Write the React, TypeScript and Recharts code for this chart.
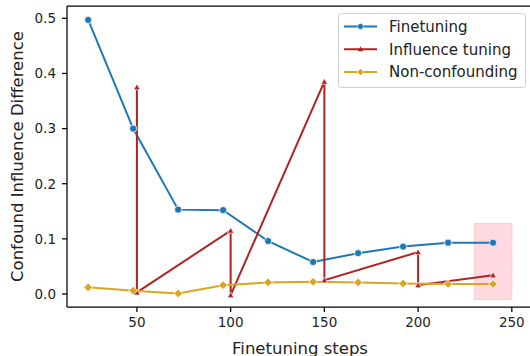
import { LineChart, Line, XAxis, YAxis, ReferenceArea, ReferenceLine, Legend } from 'recharts';

const steps = [24, 48, 72, 96, 120, 144, 168, 192, 216, 240];
const finetuning = [0.497, 0.3, 0.153, 0.152, 0.096, 0.058, 0.074, 0.086, 0.093, 0.093];
const nonConfounding = [0.012, 0.006, 0.001, 0.016, 0.021, 0.022, 0.021, 0.019, 0.018, 0.018];

// influence tuning jumps at each 50 steps, so x repeats
const influenceSteps = [50, 50, 100, 100, 150, 150, 200, 200, 240];
const influenceTuning = [0.375, 0.003, 0.115, -0.002, 0.385, 0.025, 0.076, 0.016, 0.034];

const xTicks = [50, 100, 150, 200, 250];
const yTicks = [0, 0.1, 0.2, 0.3, 0.4, 0.5];

const X_DOMAIN: [number, number] = [12.7, 261.3];
const Y_DOMAIN: [number, number] = [-0.0236, 0.5223];

const BLUE = '#1f77b4';
const RED = '#b22222';
const GOLD = '#daa520';
const FONT = '"DejaVu Sans", sans-serif';

const ftData = steps.map((s, i) => ({ x: s, y: finetuning[i] }));
const ncData = steps.map((s, i) => ({ x: s, y: nonConfounding[i] }));
const itData = influenceSteps.map((s, i) => ({ x: s, y: influenceTuning[i] }));

const CircleDot = (props: any) => (
  <circle key={props.index} cx={props.cx} cy={props.cy} r={3.6} fill={BLUE} stroke="#fff" strokeWidth={0.8} />
);

const TriangleDot = (props: any) => {
  const { cx, cy } = props;
  const s = 3.2;
  return (
    <polygon
      key={props.index}
      points={`${cx},${cy - s} ${cx - s},${cy + s * 0.8} ${cx + s},${cy + s * 0.8}`}
      fill={RED}
      stroke="#fff"
      strokeWidth={0.6}
    />
  );
};

const DiamondDot = (props: any) => {
  const { cx, cy } = props;
  const s = 4.3;
  return (
    <polygon
      key={props.index}
      points={`${cx},${cy - s} ${cx + s},${cy} ${cx},${cy + s} ${cx - s},${cy}`}
      fill={GOLD}
      stroke="#fff"
      strokeWidth={0.8}
    />
  );
};

const legendItems = [
  { name: 'Finetuning', color: BLUE, marker: 'circle' },
  { name: 'Influence tuning', color: RED, marker: 'triangle' },
  { name: 'Non-confounding', color: GOLD, marker: 'diamond' },
];

const LegendBox = () => (
  <svg width={188} height={75} style={{ display: 'block' }}>
    <rect x={0.5} y={0.5} width={187} height={74} rx={3} fill="#fff" fillOpacity={0.8} stroke="#d0d0d0" />
    {legendItems.map((it, i) => {
      const y = 13.4 + i * 22.8;
      return (
        <g key={it.name}>
          <line x1={6} x2={39} y1={y} y2={y} stroke={it.color} strokeWidth={2} />
          {it.marker === 'circle' && <circle cx={22.5} cy={y} r={3} fill={it.color} stroke="#fff" strokeWidth={0.6} />}
          {it.marker === 'triangle' && (
            <polygon points={`22.5,${y - 3} 19.8,${y + 2} 25.2,${y + 2}`} fill={it.color} />
          )}
          {it.marker === 'diamond' && (
            <polygon points={`22.5,${y - 3.6} 26.1,${y} 22.5,${y + 3.6} 18.9,${y}`} fill={it.color} stroke="#fff" strokeWidth={0.6} />
          )}
          <text x={51} y={y} dy="0.36em" fontSize={15} fill="#222" fontFamily={FONT}>
            {it.name}
          </text>
        </g>
      );
    })}
  </svg>
);

export default function App() {
  return (
    <div style={{ position: 'absolute', left: 0, top: 0, width: 530, height: 356, overflow: 'hidden', background: '#fff' }}>
      <LineChart width={534} height={356} margin={{ top: 6, right: 1, left: 10, bottom: 0 }}>
        <XAxis
          dataKey="x"
          type="number"
          domain={X_DOMAIN}
          ticks={xTicks}
          allowDataOverflow
          height={49}
          tickSize={5}
          tickMargin={5}
          stroke="#000"
          strokeWidth={1.25}
          tick={{ fill: '#222', fontSize: 13.5, fontFamily: FONT }}
          label={{ value: 'Finetuning steps', position: 'insideBottom', offset: 2, fill: '#222', fontSize: 16.5, fontFamily: FONT }}
        />
        <YAxis
          type="number"
          domain={Y_DOMAIN}
          ticks={yTicks}
          allowDataOverflow
          width={57}
          tickSize={5}
          tickMargin={6}
          stroke="#000"
          strokeWidth={1.25}
          tickFormatter={(v: number) => v.toFixed(1)}
          tick={{ fill: '#222', fontSize: 13.5, fontFamily: FONT }}
          label={{
            value: 'Confound Influence Difference',
            angle: -90,
            position: 'insideLeft',
            offset: 7.5,
            fill: '#222',
            fontSize: 16.5,
            fontFamily: FONT,
            style: { textAnchor: 'middle' },
          }}
        />
        <ReferenceLine y={Y_DOMAIN[1]} stroke="#000" strokeWidth={1.25} />
        <ReferenceArea x1={230} x2={250} y1={-0.01} y2={0.128} fill="pink" fillOpacity={0.6} stroke="pink" strokeOpacity={0.8} />
        <Line data={ftData} dataKey="y" name="Finetuning" stroke={BLUE} strokeWidth={2} dot={CircleDot} isAnimationActive={false} />
        <Line data={itData} dataKey="y" name="Influence tuning" stroke={RED} strokeWidth={2} dot={TriangleDot} isAnimationActive={false} />
        <Line data={ncData} dataKey="y" name="Non-confounding" stroke={GOLD} strokeWidth={2} dot={DiamondDot} isAnimationActive={false} />
        <Legend
          content={() => <LegendBox />}
          layout="vertical"
          align="center"
          verticalAlign="middle"
          wrapperStyle={{ position: 'absolute', left: 338, top: 13, width: 188, height: 75 }}
        />
      </LineChart>
    </div>
  );
}
